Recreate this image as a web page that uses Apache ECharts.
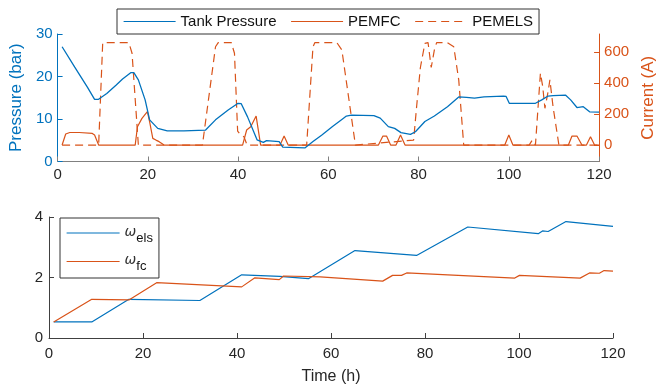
<!DOCTYPE html>
<html>
<head>
<meta charset="utf-8">
<script src="https://cdn.jsdelivr.net/npm/echarts@6/dist/echarts.min.js"></script>
<style>
html,body{margin:0;padding:0;background:#fff;}
#chart{width:665px;height:386px;}
</style>
</head>
<body>
<div id="chart"></div>
<script>
// ---- Top panel data ----
const pressureTime = [1, 3.8, 6.6, 8.2, 9, 10.9, 13, 14.4, 16.2, 16.9, 17.9, 19.4, 20.4, 22.2, 24.3, 28, 32.8, 35, 37.8, 40, 40.7, 42.1, 44.2, 45.6, 46.3, 49.1, 49.9, 54.8, 56.6, 58.5, 61, 63, 64, 65.1, 70.1, 71.5, 73.3, 74.7, 76.1, 78.2, 79.3, 81.4, 83.5, 86.4, 88.9, 90.6, 92.4, 94.5, 98.8, 99.4, 100.1, 105.9, 107.3, 108.7, 109.8, 112.6, 113.7, 115.1, 116.5, 117.9, 120];
const pressureValues = [27, 22.2, 17.5, 14.6, 14.6, 16.0, 18, 19.4, 20.9, 20.9, 19.2, 14.5, 9.8, 7.8, 7.2, 7.2, 7.4, 9.8, 12.1, 13.7, 13.6, 10.5, 5.1, 4.5, 4.9, 4.7, 3.4, 3.2, 4.7, 6.2, 8.3, 9.9, 10.7, 10.9, 10.8, 10.2, 8.2, 7.8, 6.8, 6.4, 7.0, 9.4, 10.7, 12.9, 15.2, 15.1, 14.9, 15.2, 15.4, 15.3, 13.7, 13.7, 14.5, 15.4, 15.5, 15.6, 14.5, 12.7, 12.9, 11.7, 11.6];

const pemfcTime = [1, 1.8, 2.7, 4.8, 7.7, 8.2, 9.1, 17.2, 17.7, 18.7, 19.9, 20.4, 21.1, 21.8, 22.5, 23.6, 41, 41.9, 42.8, 44, 45, 49.3, 50.2, 51.1, 71.1, 72.1, 72.9, 73.8, 75, 76, 77, 99.1, 100, 100.9, 113.2, 114, 115.1, 116.2, 117.2, 118.1, 119, 120];
const pemfcValues = [0, 71, 81, 81, 75, 65, 0, 0, 118, 172, 215, 150, 43, 32, 22, 0, 0, 97, 118, 187, 0, 0, 58, 0, 0, 58, 58, 0, 0, 65, 0, 0, 65, 0, 0, 58, 58, 0, 0, 54, 0, 0];

const pemelsTime = [1, 9.1, 10, 15.8, 16.5, 17.9, 32.1, 35, 35.6, 38.5, 39.2, 39.9, 40.6, 41.3, 42, 55.2, 56.6, 57, 61.9, 63, 66, 78.9, 79.6, 80.4, 81.4, 82.1, 82.8, 83.5, 84, 86.4, 87.8, 88.9, 90, 104.5, 105.2, 105.9, 107, 107.5, 108, 108.7, 109.1, 109.8, 111.1, 120];
const pemelsValues = [0, 0, 660, 660, 592, 0, 0, 634, 660, 660, 592, 90, 64, 54, 0, 0, 634, 660, 660, 613, 0, 32, 258, 500, 656, 660, 500, 613, 660, 660, 634, 420, 0, 0, 32, 0, 463, 380, 237, 344, 420, 247, 0, 0];

// ---- Bottom panel data ----
const elsTime = [1, 9.1, 17, 32.1, 41, 49.1, 55.2, 65.1, 78.2, 89.1, 104.1, 105, 106.2, 110, 120];
const elsValues = [0.53, 0.53, 1.28, 1.24, 2.09, 2.04, 1.96, 2.89, 2.73, 3.67, 3.45, 3.54, 3.52, 3.85, 3.69];
const fcTime = [1, 9.1, 17, 22.9, 41, 43.8, 49, 49.9, 57.7, 71, 73.1, 75, 76.1, 99.1, 100.1, 113, 115, 117.1, 118.1, 120];
const fcValues = [0.53, 1.28, 1.26, 1.83, 1.69, 1.99, 1.93, 2.05, 2.02, 1.88, 2.07, 2.07, 2.15, 1.98, 2.07, 1.98, 2.15, 2.14, 2.23, 2.21];

// ---- Tick labels ----
const currentTicks = [0, 200, 400, 600];

const BLUE = '#0072BD', ORANGE = '#D95319', AX = '#404040';
const FONT = 'Liberation Sans';
const pairs = (t, v) => t.map((x, i) => [x, v[i]]);

const chart = echarts.init(document.getElementById('chart'), null, {renderer: 'canvas'});

const xBase = (gi) => ({
  type: 'value', gridIndex: gi, min: 0, max: 120, interval: 20,
  axisLine: {show: true, onZero: false, lineStyle: {color: gi === 0 ? '#808080' : AX, width: 1}},
  axisTick: {show: true, inside: true, length: 5, lineStyle: {color: gi === 0 ? '#808080' : AX}},
  axisLabel: {color: '#262626', fontSize: 15, fontFamily: FONT, margin: gi === 0 ? 6 : 8},
  splitLine: {show: false}
});

chart.setOption({
  animation: false,
  backgroundColor: '#fff',
  grid: [
    {left: 49, right: 52, top: 34, height: 127.5},
    {left: 49, right: 52, top: 217, height: 127}
  ],
  legend: [
    {
      data: ['Tank Pressure', 'PEMFC', 'PEMELS'],
      left: 117, top: 9,
      itemWidth: 52, itemHeight: 14, itemGap: 14,
      padding: [5, 6, 5, 6],
      borderColor: '#333', borderWidth: 1,
      itemStyle: {opacity: 0},
      lineStyle: {width: 1.2},
      textStyle: {fontSize: 15, fontFamily: FONT, color: '#111'}
    },
    {
      data: ['els', 'fc'],
      orient: 'vertical',
      left: 60, top: 218,
      itemWidth: 53, itemHeight: 14, itemGap: 9,
      padding: [7, 6, 5, 6],
      borderColor: '#333', borderWidth: 1,
      itemStyle: {opacity: 0},
      lineStyle: {width: 1.2},
      formatter: (n) => '{w|ω}{s|' + n + '}',
      textStyle: {
        fontFamily: FONT, color: '#111',
        rich: {
          w: {fontSize: 14, fontStyle: 'italic', fontFamily: 'DejaVu Sans', fontWeight: 'lighter', color: '#333', padding: [0, 0, 2, 0]},
          s: {fontSize: 13, fontFamily: FONT, color: '#111', padding: [10, 0, 0, 0]}
        }
      }
    }
  ],
  xAxis: [xBase(0), Object.assign(xBase(1), {
    name: 'Time (h)', nameLocation: 'middle', nameGap: 31,
    nameTextStyle: {fontSize: 16, fontFamily: FONT, color: '#262626'}
  })],
  yAxis: [
    {
      type: 'value', gridIndex: 0, position: 'left', min: 0, max: 30, interval: 10,
      name: 'Pressure (bar)', nameLocation: 'middle', nameGap: 24,
      nameTextStyle: {fontSize: 17, fontFamily: FONT, color: BLUE},
      axisLine: {show: true, onZero: false, lineStyle: {color: BLUE}},
      axisTick: {show: true, inside: true, length: 5, lineStyle: {color: BLUE}},
      axisLabel: {color: BLUE, fontSize: 15, fontFamily: FONT, margin: 5},
      splitLine: {show: false}
    },
    {
      type: 'value', gridIndex: 0, position: 'right', min: -106, max: 716,
      name: 'Current (A)', nameLocation: 'middle', nameGap: 36, nameRotate: 90,
      nameTextStyle: {fontSize: 17, fontFamily: FONT, color: ORANGE},
      axisLine: {show: true, onZero: false, lineStyle: {color: ORANGE}},
      axisTick: {show: true, inside: true, length: 5, lineStyle: {color: ORANGE}, customValues: currentTicks},
      axisLabel: {color: ORANGE, fontSize: 15, fontFamily: FONT, margin: 5, customValues: currentTicks},
      splitLine: {show: false}
    },
    {
      type: 'value', gridIndex: 1, position: 'left', min: 0, max: 4, interval: 2,
      axisLine: {show: true, onZero: false, lineStyle: {color: AX}},
      axisTick: {show: true, inside: true, length: 5, lineStyle: {color: AX}},
      axisLabel: {color: '#262626', fontSize: 15, fontFamily: FONT, margin: 6},
      splitLine: {show: false}
    }
  ],
  series: [
    {name: 'Tank Pressure', type: 'line', xAxisIndex: 0, yAxisIndex: 0, data: pairs(pressureTime, pressureValues),
     symbol: 'none', color: BLUE, lineStyle: {width: 1.3, color: BLUE}, z: 3},
    {name: 'PEMFC', type: 'line', xAxisIndex: 0, yAxisIndex: 1, data: pairs(pemfcTime, pemfcValues),
     symbol: 'none', color: ORANGE, lineStyle: {width: 1.2, color: ORANGE}, z: 2},
    {name: 'PEMELS', type: 'line', xAxisIndex: 0, yAxisIndex: 1, data: pairs(pemelsTime, pemelsValues),
     symbol: 'none', color: ORANGE, lineStyle: {width: 1.2, color: ORANGE, type: [8, 5]}, z: 2},
    {name: 'els', type: 'line', xAxisIndex: 1, yAxisIndex: 2, data: pairs(elsTime, elsValues),
     symbol: 'none', color: BLUE, lineStyle: {width: 1.2, color: BLUE}},
    {name: 'fc', type: 'line', xAxisIndex: 1, yAxisIndex: 2, data: pairs(fcTime, fcValues),
     symbol: 'none', color: ORANGE, lineStyle: {width: 1.2, color: ORANGE}}
  ]
});
</script>
</body>
</html>
